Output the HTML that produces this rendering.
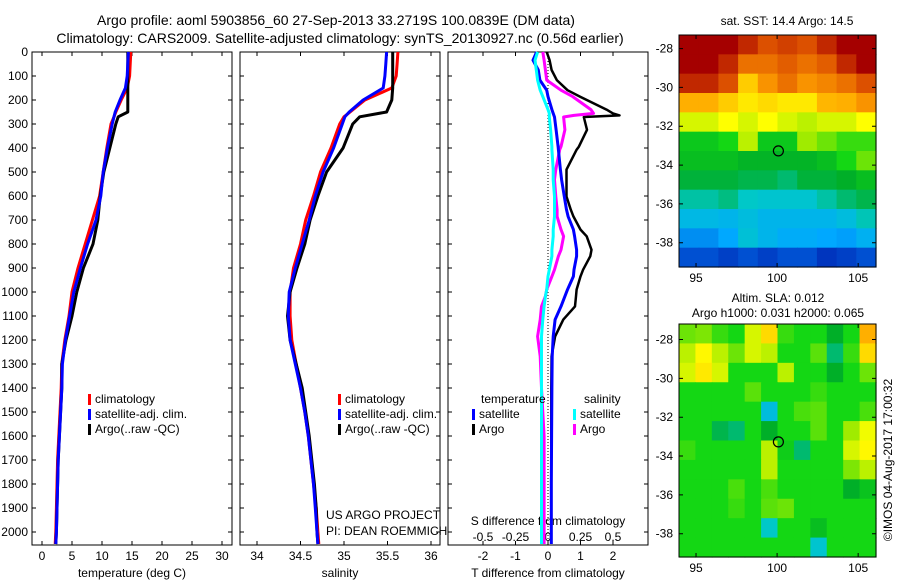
<!DOCTYPE html>
<html><head><meta charset="utf-8"><style>
body{margin:0;background:#fff;width:900px;height:580px;overflow:hidden}
svg text{font-family:"Liberation Sans",sans-serif;fill:#000}
</style></head><body>
<svg id="c" width="900" height="580" xmlns="http://www.w3.org/2000/svg">
<text x="336" y="25" font-size="14" text-anchor="middle">Argo profile: aoml 5903856_60 27-Sep-2013 33.2719S 100.0839E (DM data)</text>
<text x="340" y="43" font-size="14" text-anchor="middle">Climatology: CARS2009. Satellite-adjusted climatology: synTS_20130927.nc (0.56d earlier)</text>
<text x="787" y="25" font-size="12" text-anchor="middle">sat. SST: 14.4 Argo: 14.5</text>
<text x="778" y="302" font-size="12" text-anchor="middle">Altim. SLA: 0.012</text>
<text x="778" y="317" font-size="12" text-anchor="middle">Argo h1000: 0.031 h2000: 0.065</text>
<text transform="translate(892,460) rotate(-90)" font-size="12" text-anchor="middle">©IMOS 04-Aug-2017 17:00:32</text>
<g id="g"></g>
</svg>
<script>
// ---- data ----
const depths=[0,50,100,150,200,250,270,300,400,500,600,700,800,900,1000,1100,1200,1300,1400,1500,1600,1700,1800,1900,2000,2050];
const tArgo=[14.3,14.3,14.3,14.3,14.3,14.3,12.7,12.3,11.3,10.3,9.7,9.3,8.5,6.9,5.8,5.0,4.0,3.3,3.3,3.1,2.9,2.7,2.6,2.5,2.4,2.3];
const tClim=[14.8,14.7,14.6,14.2,13.2,12.3,12.0,11.5,10.8,10.2,9.6,8.4,7.2,6.0,5.0,4.5,3.8,3.3,3.2,3.0,2.8,2.6,2.5,2.4,2.3,2.2];
const tSat=[14.4,14.3,14.2,13.9,13.0,12.2,12.0,11.7,10.9,10.2,9.8,9.0,7.6,6.4,5.3,4.6,3.9,3.4,3.3,3.1,2.9,2.7,2.6,2.5,2.4,2.3];
const sArgo=[35.56,35.56,35.56,35.56,35.55,35.49,35.18,35.10,34.99,34.80,34.70,34.61,34.55,34.46,34.38,34.35,34.38,34.45,34.52,34.56,34.60,34.63,34.66,34.68,34.69,34.70];
const sClim=[35.62,35.61,35.60,35.55,35.24,35.07,35.00,34.95,34.85,34.73,34.65,34.56,34.50,34.42,34.38,34.38,34.40,34.45,34.50,34.55,34.59,34.62,34.65,34.68,34.70,34.71];
const sSat=[35.49,35.48,35.47,35.45,35.22,35.06,35.01,34.98,34.88,34.76,34.67,34.60,34.52,34.44,34.37,34.36,34.38,34.44,34.50,34.55,34.59,34.62,34.65,34.67,34.69,34.70];
const dDepths=[0,34,75,117,159,186,240,256,264,271,324,394,407,490,532,602,657,685,740,768,824,851,907,935,990,1018,1060,1115,1185,1268,1400,1600,1800,2000,2050];
const dtArgo=[-0.04,0.05,0.11,0.27,0.6,0.98,1.8,2.0,2.2,1.1,1.2,0.95,0.88,0.57,0.57,0.57,0.7,0.78,1.0,1.19,1.34,1.3,1.08,1.0,0.88,0.86,0.83,0.47,0.22,0.11,0.1,0.1,0.1,0.1,0.1];
const dtSat=[-0.35,-0.46,-0.3,-0.25,-0.04,0.0,0.12,0.16,0.18,0.2,0.25,0.31,0.32,0.38,0.42,0.5,0.57,0.62,0.78,0.82,0.88,0.88,0.8,0.78,0.6,0.52,0.4,0.22,0.16,0.13,0.12,0.11,0.1,0.1,0.1];
const dsArgo=[-0.04,-0.03,-0.02,-0.01,0.1,0.19,0.33,0.35,0.2,0.12,0.13,0.1,0.09,0.06,0.05,0.06,0.07,0.07,0.1,0.12,0.1,0.08,0.05,0.03,-0.01,-0.02,-0.05,-0.06,-0.08,-0.06,-0.05,-0.03,-0.03,-0.03,-0.03];
const dsSat=[-0.08,-0.1,-0.09,-0.08,-0.06,-0.04,0.0,0.01,0.01,0.01,0.02,0.03,0.03,0.04,0.04,0.05,0.05,0.05,0.04,0.04,0.03,0.03,0.01,0.0,-0.01,-0.02,-0.03,-0.04,-0.05,-0.05,-0.05,-0.05,-0.05,-0.05,-0.05];
const depthTicks=[0,100,200,300,400,500,600,700,800,900,1000,1100,1200,1300,1400,1500,1600,1700,1800,1900,2000];
const tTicks=[0,5,10,15,20,25,30];
const sTicks=[34,34.5,35,35.5,36];
const dtTicks=[-2,-1,0,1,2];
const dsTicks=[-0.5,-0.25,0,0.25,0.5];
const dsTickLabels=["-0.5","-0.25","0","0.25","0.5"];
const sstGrid=[
[1,1,1,.95,.9,.92,.9,.95,1,1],
[1,1,.95,.85,.85,.88,.85,.88,.95,1],
[.95,.95,.9,.72,.8,.85,.8,.82,.85,.9],
[.76,.76,.72,.68,.7,.68,.68,.75,.76,.8],
[.62,.62,.65,.62,.65,.62,.6,.62,.62,.65],
[.47,.47,.5,.6,.47,.47,.58,.55,.52,.52],
[.45,.45,.45,.43,.43,.43,.43,.45,.5,.55],
[.41,.41,.41,.4,.4,.38,.41,.41,.42,.45],
[.35,.35,.37,.33,.32,.32,.32,.35,.38,.4],
[.29,.29,.28,.3,.28,.28,.28,.28,.3,.34],
[.22,.22,.25,.31,.28,.26,.26,.25,.24,.27],
[.15,.15,.12,.15,.12,.15,.15,.1,.12,.15]];
const slaGrid=[
[.55,.56,.52,.5,.62,.7,.52,.5,.5,.42,.5,.76],
[.6,.66,.6,.55,.62,.6,.5,.5,.54,.38,.52,.7],
[.62,.68,.62,.5,.5,.5,.6,.5,.5,.42,.5,.55],
[.5,.5,.5,.5,.54,.5,.5,.5,.52,.5,.5,.5],
[.5,.5,.5,.5,.5,.3,.5,.53,.54,.5,.5,.53],
[.5,.5,.4,.38,.5,.42,.5,.5,.54,.5,.58,.64],
[.52,.5,.5,.5,.5,.6,.48,.38,.5,.5,.62,.66],
[.5,.5,.5,.5,.5,.6,.5,.5,.5,.5,.56,.6],
[.5,.5,.5,.53,.5,.53,.5,.5,.5,.5,.42,.46],
[.5,.5,.5,.52,.5,.54,.55,.5,.5,.5,.5,.5],
[.5,.5,.5,.5,.5,.33,.5,.5,.45,.5,.5,.5],
[.5,.5,.5,.5,.5,.5,.5,.5,.32,.5,.5,.5]];
const lonTicks=[95,100,105];
const latTicks=[-28,-30,-32,-34,-36,-38];
const argoLon=100.08, argoLat=-33.27;

// ---- helpers ----
const NS="http://www.w3.org/2000/svg", G=document.getElementById('g');
function mk(tag,at,parent){const e=document.createElementNS(NS,tag);for(const k in at)e.setAttribute(k,at[k]);(parent||G).appendChild(e);return e;}
const TOP=52,BOT=545;
const yD=d=>TOP+d*0.24;
const xT=v=>42+v*6, xS=v=>257+(v-34)*87, xDT=v=>548+v*32.5, xDS=v=>548+v*130;
const panels=[[32,232],[240,440],[448,648]];

panels.forEach((p,i)=>{
  const r=mk('rect',{x:p[0],y:TOP,width:p[1]-p[0],height:BOT-TOP,fill:'none',stroke:'#000','stroke-width':1});
  
  
  depthTicks.forEach(d=>{
    const t=mk('path',{d:`M${p[0]} ${yD(d)}h4M${p[1]} ${yD(d)}h-4`,stroke:'#000'});
    
    
  });
});
depthTicks.forEach(d=>{
  const t=mk('text',{x:28,y:yD(d)+4,'font-size':12,'text-anchor':'end'});t.textContent=d;
  
  
});
function xticks(ticks,fx,labels,ly){
  ticks.forEach((v,i)=>{
    const t=mk('path',{d:`M${fx(v)} ${BOT}v-4M${fx(v)} ${TOP}v4`,stroke:'#000'});
    
    
    const l=mk('text',{x:fx(v),y:ly,'font-size':12,'text-anchor':'middle'});l.textContent=labels[i];
    
    
  });
}
xticks(tTicks,xT,tTicks,560);
xticks(sTicks,xS,sTicks,560);
xticks(dtTicks,xDT,dtTicks,560);
dsTicks.forEach((v,i)=>{
  const l=mk('text',{x:xDS(v),y:541,'font-size':12,'text-anchor':'middle'});l.textContent=dsTickLabels[i];
  
  
});
[['temperature (deg C)',132,'x-axis-title-temperature'],['salinity',340,'x-axis-title-salinity'],['T difference from climatology',548,'x-axis-title-t-diff']].forEach(a=>{
  const l=mk('text',{x:a[1],y:577,'font-size':12,'text-anchor':'middle'});l.textContent=a[0];
  
  
});
const sd=mk('text',{x:548,y:525,'font-size':12,'text-anchor':'middle'});sd.textContent='S difference from climatology';


[['US ARGO PROJECT',519],['PI: DEAN ROEMMICH',535]].forEach((a,i)=>{
  const l=mk('text',{x:326,y:a[1],'font-size':12});l.textContent=a[0];
  
  
});
const z=mk('line',{x1:xDT(0),y1:TOP,x2:xDT(0),y2:BOT,stroke:'#000','stroke-dasharray':'1 2'});



function line(vals,fx,dep,color,w,name){
  const pts=vals.map((v,i)=>fx(v).toFixed(1)+','+yD(dep[i]).toFixed(1)).join(' ');
  const e=mk('polyline',{points:pts,fill:'none',stroke:color,'stroke-width':w,'stroke-linejoin':'round'});
  
  
}
line(tClim,xT,depths,'#f00',3,'temperature-climatology-line');
line(tArgo,xT,depths,'#000',3,'temperature-argo-line');
line(tSat,xT,depths,'#00f',3,'temperature-satellite-line');
line(sClim,xS,depths,'#f00',3,'salinity-climatology-line');
line(sArgo,xS,depths,'#000',3,'salinity-argo-line');
line(sSat,xS,depths,'#00f',3,'salinity-satellite-line');
line(dtArgo,xDT,dDepths,'#000',2.5,'t-diff-argo-line');
line(dsArgo,xDS,dDepths,'#f0f',3,'s-diff-argo-line');
line(dtSat,xDT,dDepths,'#00f',3,'t-diff-satellite-line');
line(dsSat,xDS,dDepths,'#0ff',3,'s-diff-satellite-line');

function legend(x,y,color,text,name){
  const r=mk('rect',{x:x,y:y-9,width:3,height:11,fill:color});
  
  
  const t=mk('text',{x:x+7,y:y,'font-size':12});t.textContent=text;
  
  
}
[[88,'legend'],[338,'legend-salinity']].forEach(a=>{
  legend(a[0],403,'#f00','climatology',a[1]+'-climatology');
  legend(a[0],418,'#00f','satellite-adj. clim.',a[1]+'-satellite');
  legend(a[0],433,'#000','Argo(..raw -QC)',a[1]+'-argo');
});
const lt=mk('text',{x:481,y:403,'font-size':12});lt.textContent='temperature';


const ls=mk('text',{x:584,y:403,'font-size':12});ls.textContent='salinity';


legend(472,418,'#00f','satellite','legend-t-diff-satellite');
legend(472,433,'#000','Argo','legend-t-diff-argo');
legend(573,418,'#0ff','satellite','legend-s-diff-satellite');
legend(573,433,'#f0f','Argo','legend-s-diff-argo');

// ---- maps ----
const cmStops=[[0,[0,0,150]],[0.15,[0,80,210]],[0.25,[0,168,255]],[0.33,[0,200,200]],[0.42,[0,175,40]],[0.5,[20,215,20]],[0.58,[160,235,0]],[0.65,[255,255,0]],[0.78,[255,160,0]],[0.9,[220,80,0]],[1,[165,0,0]]];
function cmap(v){
  for(let i=1;i<cmStops.length;i++){
    if(v<=cmStops[i][0]){const a=cmStops[i-1],b=cmStops[i],t=(v-a[0])/(b[0]-a[0]);
      return 'rgb('+a[1].map((c,k)=>Math.round(c+(b[1][k]-c)*t)).join(',')+')';}
  }
  return 'rgb(165,0,0)';
}
const MX0=679,MX1=876,LON0=93.95,LON1=106.1;
const mx=l=>MX0+(l-LON0)/(LON1-LON0)*(MX1-MX0);
function map(grid,y0,y1,latTop,latBot,name){
  const my=l=>y0+(latTop-l)/(latTop-latBot)*(y1-y0);
  const rows=grid.length,cols=grid[0].length;
  const cw=(MX1-MX0)/cols,ch=(y1-y0)/rows;
  grid.forEach((row,j)=>row.forEach((v,i)=>{
    const r=mk('rect',{x:(MX0+i*cw).toFixed(2),y:(y0+j*ch).toFixed(2),width:(cw+0.6).toFixed(2),height:(ch+0.6).toFixed(2),fill:cmap(v)});
    
    
  }));
  const f=mk('rect',{x:MX0,y:y0,width:MX1-MX0,height:y1-y0,fill:'none',stroke:'#000'});
  
  
  lonTicks.forEach(l=>{
    const t=mk('path',{d:`M${mx(l)} ${y0}v4M${mx(l)} ${y1}v-4`,stroke:'#000'});
    
    
    const tx=mk('text',{x:mx(l),y:y1+15,'font-size':12,'text-anchor':'middle'});tx.textContent=l;
    
    
  });
  latTicks.forEach(l=>{
    const t=mk('path',{d:`M${MX0} ${my(l)}h4M${MX1} ${my(l)}h-4`,stroke:'#000'});
    
    
    const tx=mk('text',{x:MX0-6,y:my(l)+4,'font-size':12,'text-anchor':'end'});tx.textContent=l;
    
    
  });
  const c=mk('circle',{cx:mx(argoLon),cy:my(argoLat),r:5,fill:'none',stroke:'#000','stroke-width':1.2});
  
  
}
map(sstGrid,35,267,-27.3,-39.25,'sst-map');
map(slaGrid,324,557,-27.2,-39.2,'sla-map');
</script>
</body></html>
